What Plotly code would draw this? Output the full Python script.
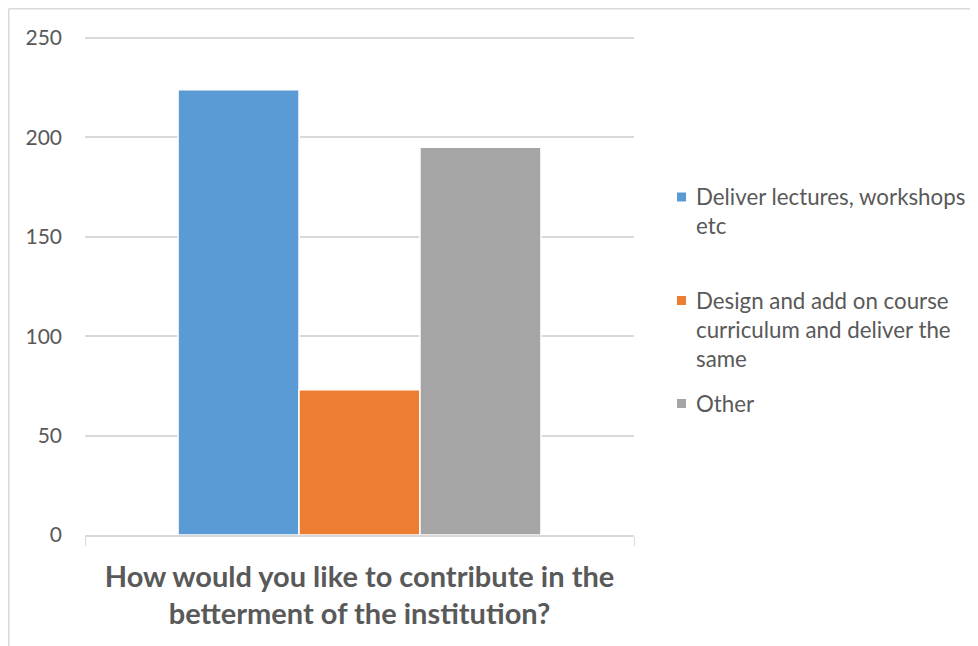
import plotly.graph_objects as go

category = ["How would you like to contribute in the<br>betterment of the institution?"]
series_names = [
    "Deliver lectures, workshops<br>etc",
    "Design and add on course<br>curriculum and deliver the<br>same",
    "Other",
]
series_values = [224, 73, 195]
series_colors = ["#5B9BD5", "#ED7D31", "#A5A5A5"]
y_ticks = [0, 50, 100, 150, 200, 250]

W, H = 978, 646
SCALE = 497 / 250          # pixels per unit
Y_TOP = 253
L, R, B = 77, 626, 527
T = round(B - Y_TOP * SCALE)

fig = go.Figure()
for name, val, col in zip(series_names, series_values, series_colors):
    fig.add_trace(go.Bar(
        x=category, y=[val], name=name, showlegend=False,
        marker=dict(color=col, line=dict(color="white", width=1.5)),
    ))

def px_x(p):
    return (p - L) / (R - L)

def px_y(p):
    return (B - p) / (B - T)

legend_first_line_y = [189, 292.5, 395.5]
LEG_FONT = 22.3
shapes = [
    dict(type="line", xref="paper", yref="paper",
         x0=px_x(0.75), x1=px_x(W + 5), y0=px_y(0.75), y1=px_y(0.75),
         line=dict(color="#D9D9D9", width=1.5)),
    dict(type="line", xref="paper", yref="paper",
         x0=px_x(0.75), x1=px_x(0.75), y0=px_y(0.75), y1=px_y(H + 5),
         line=dict(color="#D9D9D9", width=1.5)),
]
annotations = []
for name, col, yc in zip(series_names, series_colors, legend_first_line_y):
    shapes.append(dict(type="rect", xref="paper", yref="paper",
                       x0=px_x(669), x1=px_x(678), y0=px_y(yc - 4.5), y1=px_y(yc + 4.5),
                       fillcolor=col, line=dict(width=0)))
    annotations.append(dict(xref="paper", yref="paper", x=px_x(686), y=px_y(yc - 16),
                            xanchor="left", yanchor="top", align="left", showarrow=False,
                            text=name, font=dict(size=LEG_FONT, color="#595959")))

fig.update_layout(
    width=W, height=H,
    margin=dict(l=L, r=W - R, t=T, b=H - B, pad=0),
    paper_bgcolor="white", plot_bgcolor="white",
    barmode="group", bargap=0.339, bargroupgap=0,
    font=dict(family="Lato", color="#595959"),
    showlegend=False,
    xaxis=dict(
        showline=True, linecolor="#D9D9D9", linewidth=1.5,
        ticks="outside", tickson="boundaries", ticklen=9, tickcolor="#D9D9D9",
        tickfont=dict(size=29, weight="bold", color="#595959"),
        ticklabelstandoff=15,
        showgrid=False,
    ),
    yaxis=dict(
        range=[0, Y_TOP], tickvals=y_ticks,
        showgrid=True, gridcolor="#D9D9D9", gridwidth=1.5,
        zeroline=False, showline=False,
        tickfont=dict(size=21, color="#595959"),
        ticklabelstandoff=22,
    ),
    shapes=shapes,
    annotations=annotations,
)

fig.write_html("out.html")
